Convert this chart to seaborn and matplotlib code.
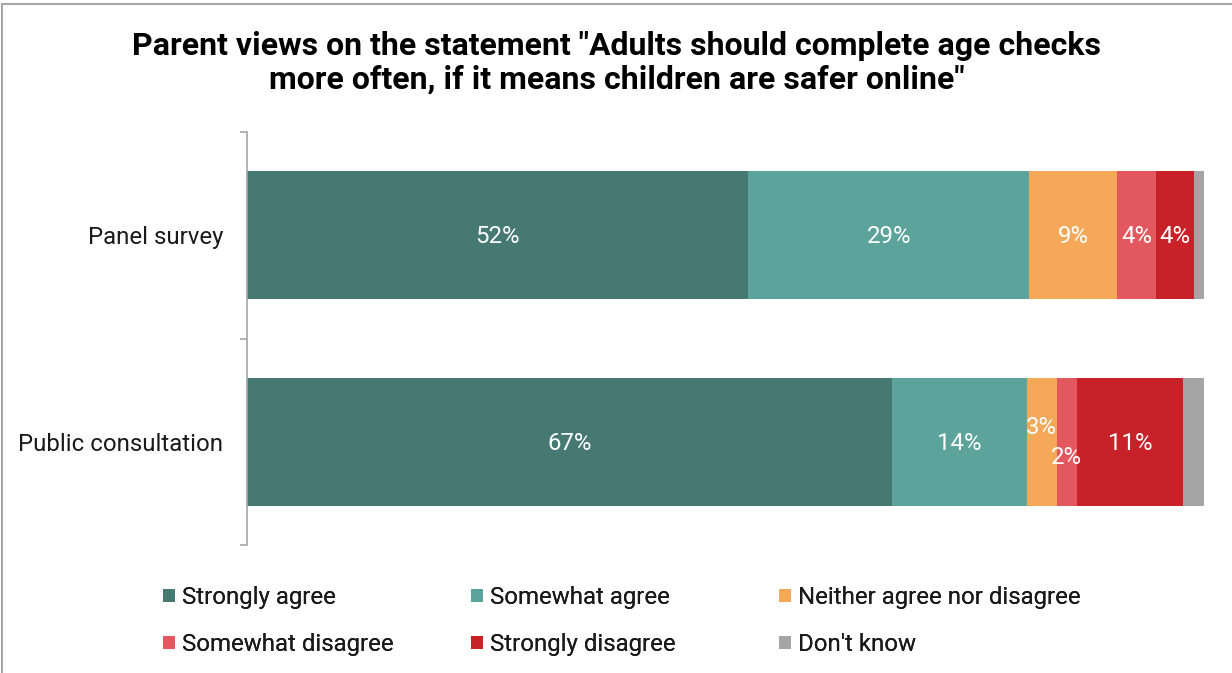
import matplotlib
matplotlib.use("Agg")
import matplotlib.pyplot as plt
from matplotlib.patches import Patch, Rectangle
import seaborn as sns
import pandas as pd
import numpy as np

# Survey responses (% of parents)
groups = ["Panel survey", "Public consultation"]
responses = ["Strongly agree", "Somewhat agree", "Neither agree nor disagree",
             "Somewhat disagree", "Strongly disagree", "Don't know"]
strongly_agree = [52.4, 67.4]
somewhat_agree = [29.3, 14.1]
neither = [9.2, 3.1]
somewhat_disagree = [4.1, 2.1]
strongly_disagree = [4.0, 11.1]
dont_know = [1.0, 2.2]
colors = ["#467972", "#5BA39B", "#F5A857", "#E3585F", "#C82228", "#A5A5A5"]
title = 'Parent views on the statement "Adults should complete age checks\nmore often, if it means children are safer online"'

series = [strongly_agree, somewhat_agree, neither, somewhat_disagree,
          strongly_disagree, dont_know]
df = pd.DataFrame({r: v for r, v in zip(responses, series)}, index=groups)
cum = df.cumsum(axis=1)

sns.set_style("white")
plt.rcParams["font.family"] = ["Roboto", "DejaVu Sans"]

FS = 17.3
W, H = 1232, 673
fig = plt.figure(figsize=(W / 100, H / 100), dpi=100)
ax = fig.add_axes([247 / W, 1 - 545 / H, (1204 - 247) / W, (545 - 132) / H])

# Stack by overlaying cumulative totals, widest first
for resp, col in reversed(list(zip(responses, colors))):
    sns.barplot(x=cum[resp].values, y=groups, orient="h", color=col,
                width=0.62, ax=ax, saturation=1, linewidth=0)

ax.set_xlim(0, cum.iloc[:, -1].max())
ax.set_ylim(1.5, -0.5)
ax.set_xlabel("")
ax.set_ylabel("")
ax.set_xticks([])
for side in ["top", "right", "bottom"]:
    ax.spines[side].set_visible(False)
ax.spines["left"].set_color("#A6A6A6")
ax.spines["left"].set_linewidth(1.2)
ax.set_yticks([0, 1])
ax.set_yticklabels(groups, fontsize=FS, color="#1a1a1a")
ax.tick_params(axis="y", which="major", length=0, pad=17)
ax.set_yticks([-0.5, 0.5, 1.5], minor=True)
ax.tick_params(axis="y", which="minor", length=5, width=1.2, color="#A6A6A6",
               left=True)

# Value labels, nudged apart where segments are too narrow
offsets = {(1, 2): 11, (1, 3): -10}
for i, g in enumerate(groups):
    left = 0.0
    for j, resp in enumerate(responses):
        v = df.loc[g, resp]
        if resp != "Don't know":
            dy = offsets.get((i, j), 0) - 1
            ax.annotate(f"{round(v):.0f}%", (left + v / 2, i),
                        xytext=(0, dy), textcoords="offset points",
                        ha="center", va="center", color="white", fontsize=FS)
        left += v

# Title
fig.text(617 / W, 1 - 62.5 / H, title, ha="center", va="center", fontsize=23,
         fontweight="bold", color="black", linespacing=1.15)

# Legend laid out in three fixed-width columns
handles = [Patch(facecolor=c, edgecolor="none") for c in colors]
col_x = [163, 471, 779]
for k in range(3):
    idx = [k, k + 3]
    leg = fig.legend([handles[i] for i in idx], [responses[i] for i in idx],
                     loc="upper left", bbox_to_anchor=(col_x[k] / W, 1 - 586 / H),
                     frameon=False, fontsize=FS, handlelength=0.5,
                     handleheight=0.5, handletextpad=0.3, labelspacing=1.0,
                     borderaxespad=0, borderpad=0)
    for t in leg.get_texts():
        t.set_color("#1a1a1a")
    fig.add_artist(leg)

# Thin chart border
fig.add_artist(Rectangle((1.5 / W, -0.01), 1.02, 1 - 3.5 / H + 0.01,
                         transform=fig.transFigure, fill=False,
                         edgecolor="#A6A6A6", linewidth=1.5))

fig.savefig("out.png", dpi=100)
